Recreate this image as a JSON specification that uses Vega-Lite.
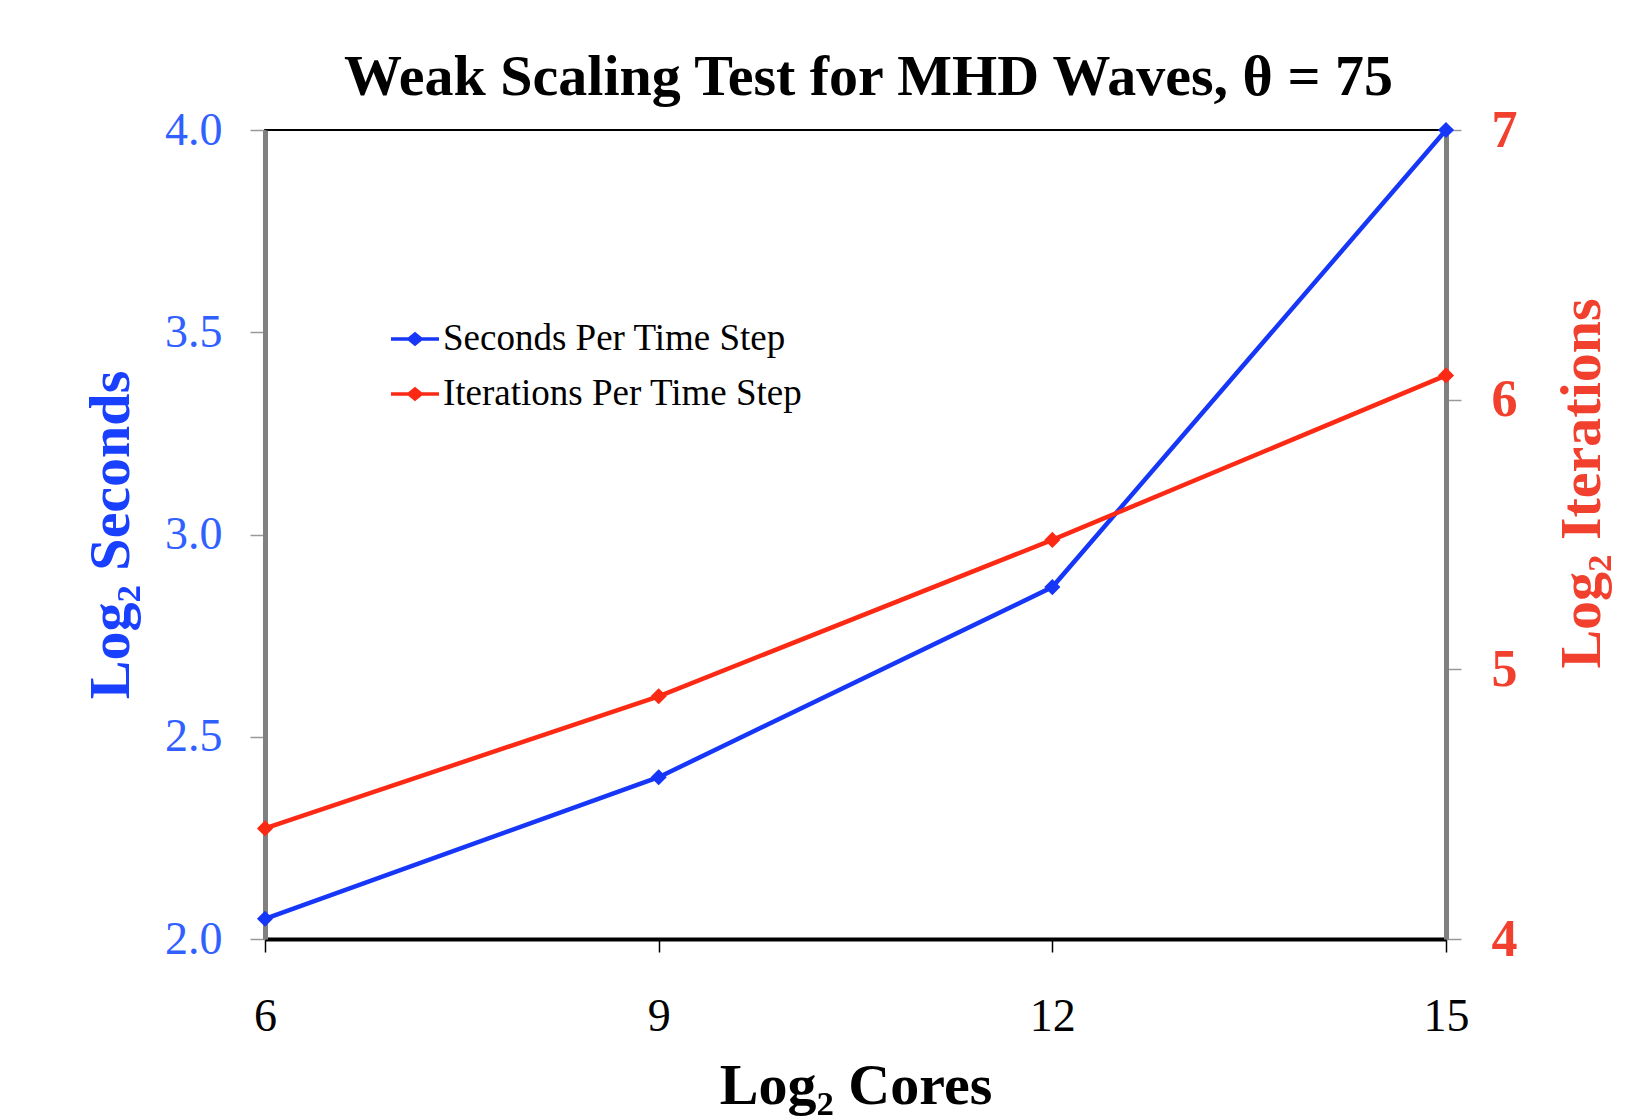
{
  "$schema": "https://vega.github.io/schema/vega-lite/v6.json",
  "autosize": "none",
  "width": 1181,
  "height": 809,
  "padding": {"left": 265, "top": 130, "right": 191, "bottom": 178},
  "background": "white",
  "config": {
    "font": "Liberation Serif",
    "view": {"stroke": "black", "strokeWidth": 2},
    "axis": {"grid": false, "labelFont": "Liberation Serif", "titleFont": "Liberation Serif"}
  },
  "title": {
    "text": "Weak Scaling Test for MHD Waves, θ = 75",
    "font": "Liberation Serif",
    "fontSize": 58,
    "fontWeight": "bold",
    "color": "black",
    "anchor": "middle",
    "frame": "group",
    "offset": -3,
    "dx": 13
  },
  "data": {
    "values": [
      {"cores": 6, "seconds": 2.05, "iterations": 4.41},
      {"cores": 9, "seconds": 2.40, "iterations": 4.90},
      {"cores": 12, "seconds": 2.87, "iterations": 5.48},
      {"cores": 15, "seconds": 4.0, "iterations": 6.09}
    ]
  },
  "encoding": {
    "x": {
      "field": "cores",
      "type": "quantitative",
      "scale": {"domain": [6, 15], "nice": false, "zero": false},
      "axis": {
        "title": "Log₂ Cores",
        "values": [6, 9, 12, 15],
        "labelFlush": false,
        "labelFontSize": 46,
        "labelColor": "black",
        "labelPadding": 42,
        "tickSize": 13,
        "tickColor": "black",
        "tickWidth": 1.5,
        "domainColor": "black",
        "domainWidth": 4,
        "titleFontSize": 58,
        "titleFontWeight": "bold",
        "titleColor": "black",
        "titlePadding": 18
      }
    }
  },
  "layer": [
    {
      "mark": {"type": "line", "strokeWidth": 4.5, "point": {"shape": "diamond", "filled": true, "size": 260}},
      "encoding": {
        "y": {
          "field": "seconds",
          "type": "quantitative",
          "scale": {"domain": [2, 4], "nice": false, "zero": false},
          "axis": {
            "orient": "left",
            "title": "Log₂ Seconds",
            "values": [2, 2.5, 3, 3.5, 4],
            "format": ".1f",
            "labelFlush": false,
            "labelFontSize": 46,
            "labelColor": "#3060ff",
            "labelPadding": 28,
            "tickSize": 15,
            "tickColor": "#999999",
            "tickWidth": 1.5,
            "domainColor": "#808080",
            "domainWidth": 5,
            "titleFontSize": 58,
            "titleFontWeight": "bold",
            "titleColor": "#1a40ff",
            "titlePadding": 24
          }
        },
        "color": {
          "datum": "Seconds Per Time Step",
          "type": "nominal",
          "scale": {"domain": ["Seconds Per Time Step", "Iterations Per Time Step"], "range": ["#1636f8", "#fc2a14"]},
          "legend": {
            "title": null,
            "orient": "none",
            "legendX": 126,
            "legendY": 185,
            "padding": 0,
            "symbolType": "M-1,-0.07L-0.28,-0.07L0,-0.3L0.28,-0.07L1,-0.07L1,0.07L0.28,0.07L0,0.3L-0.28,0.07L-1,0.07Z",
            "symbolSize": 2304,
            "symbolStrokeWidth": 0,
            "labelFont": "Liberation Serif",
            "labelFontSize": 37,
            "labelColor": "black",
            "labelLimit": 1000,
            "labelOffset": 4,
            "rowPadding": 13
          }
        }
      }
    },
    {
      "mark": {"type": "line", "strokeWidth": 4.5, "point": {"shape": "diamond", "filled": true, "size": 260}},
      "encoding": {
        "y": {
          "field": "iterations",
          "type": "quantitative",
          "scale": {"domain": [4, 7], "nice": false, "zero": false},
          "axis": {
            "orient": "right",
            "title": "Log₂ Iterations",
            "values": [4, 5, 6, 7],
            "labelFlush": false,
            "labelFontSize": 52,
            "labelFontWeight": "bold",
            "labelColor": "#f2402e",
            "labelPadding": 30,
            "tickSize": 15,
            "tickColor": "#999999",
            "tickWidth": 1.5,
            "domainColor": "#808080",
            "domainWidth": 5,
            "titleFontSize": 58,
            "titleFontWeight": "bold",
            "titleColor": "#f2402e",
            "titleAngle": 270,
            "titleAlign": "center",
            "titleBaseline": "middle",
            "titleX": 136,
            "titleY": 353
          }
        },
        "color": {"datum": "Iterations Per Time Step", "type": "nominal"}
      }
    }
  ],
  "resolve": {"scale": {"y": "independent"}}
}
